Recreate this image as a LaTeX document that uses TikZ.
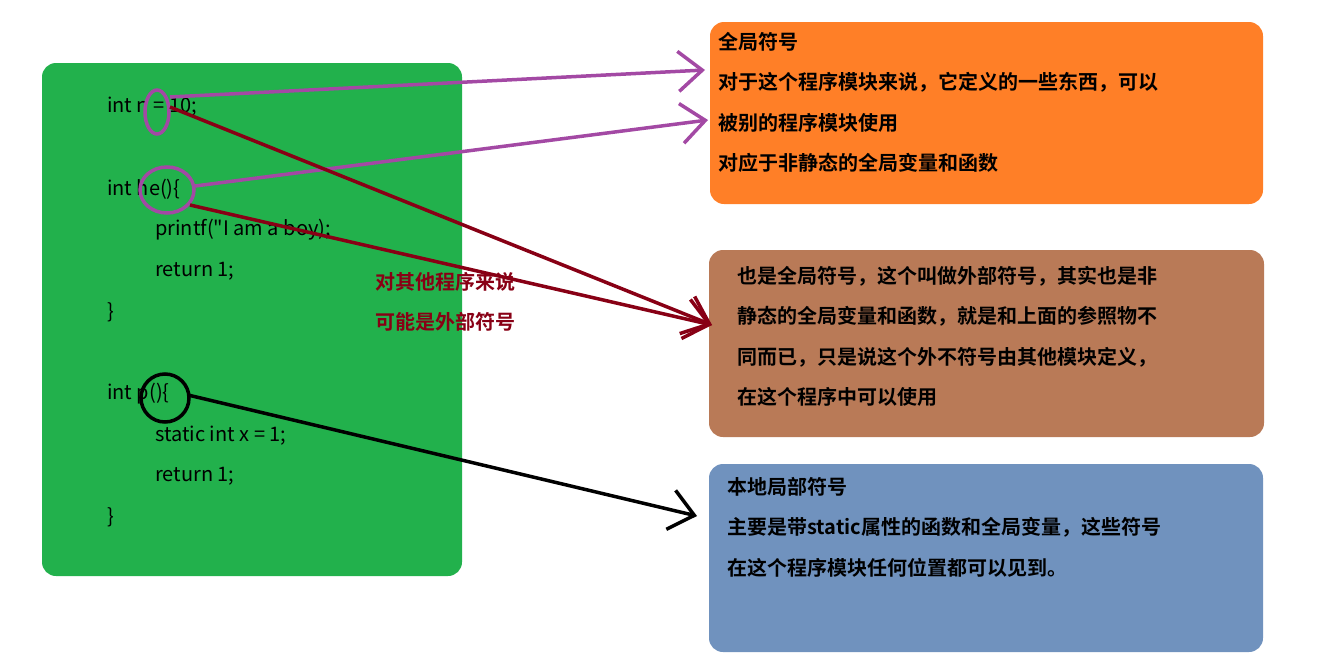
\documentclass[tikz,border=0pt]{standalone}
\usepackage{fontspec}
\newfontfamily\cjk{Noto Sans CJK SC}[BoldFont={* Bold}]
\usetikzlibrary{arrows.meta}
\definecolor{grn}{HTML}{22B14C}
\definecolor{org}{HTML}{FF7F27}
\definecolor{brn}{HTML}{B97A57}
\definecolor{blu}{HTML}{7092BE}
\definecolor{prp}{HTML}{A349A4}
\definecolor{drd}{HTML}{880015}
\tikzset{
 box/.style={rounded corners=14pt},
 code/.style={anchor=west,inner sep=0pt,font=\cjk\fontsize{20}{24}\selectfont},
 txt/.style={anchor=north west,inner sep=0pt,align=left,font=\cjk\bfseries\fontsize{20}{40.5}\selectfont},
 arr/.style={line width=3.5pt,-{Straight Barb[length=24pt,width=40pt,line width=3.5pt]}},
 ring/.style={line width=3.5pt}
}
\begin{document}
\begin{tikzpicture}[x=1pt,y=-1pt]
\useasboundingbox (0,0) rectangle (1331,659);
\fill[grn,box] (42,63) rectangle (462,576);
\fill[org,box] (710,22) rectangle (1263,204);
\fill[brn,box] (709,250) rectangle (1264,437);
\fill[blu,box] (709,464) rectangle (1263,652);
\node[code] (c1) at (107,107) {int n = 10;};
\node[code] (c2) at (107,189) {int he()\{};
\node[code] (c3) at (155,230) {printf("I am a boy);};
\node[code] (c4) at (155,271) {return 1;};
\node[code] (c5) at (107,312) {\}};
\node[code] (c6) at (107,394) {int p()\{};
\node[code] (c7) at (155,436) {static int x = 1;};
\node[code] (c8) at (155,476) {return 1;};
\node[code] (c9) at (107,517) {\}};
\draw[prp,ring] (157,112) ellipse [x radius=12, y radius=22];
\draw[prp,ring] (167,190) ellipse [x radius=27, y radius=23];
\draw[black,ring] (165,398) circle [radius=24];
\coordinate (n1) at (170,97);
\coordinate (n2) at (170,107);
\coordinate (h1) at (195,186);
\coordinate (h2) at (190,205);
\coordinate (p1) at (188,395);
\node[txt] (t1) at (718,32) {全局符号\\对于这个程序模块来说，它定义的一些东西，可以\\被别的程序模块使用\\对应于非静态的全局变量和函数};
\node[txt] (t2) at (737,266) {也是全局符号，这个叫做外部符号，其实也是非\\静态的全局变量和函数，就是和上面的参照物不\\同而已，只是说这个外不符号由其他模块定义，\\在这个程序中可以使用};
\node[txt] (t3) at (727,477) {本地局部符号\\主要是带static属性的函数和全局变量，这些符号\\在这个程序模块任何位置都可以见到。};
\node[txt,text=drd] (lab) at (375,272) {对其他程序来说\\可能是外部符号};
\coordinate (a1) at (705,70);
\coordinate (a2) at (708,120);
\coordinate (a3) at (712,325);
\coordinate (a4) at (697,516);
\draw[prp,arr] (n1) -- (a1);
\draw[prp,arr] (h1) -- (a2);
\draw[drd,arr] (n2) -- (a3);
\draw[drd,arr] (h2) -- (a3);
\draw[black,arr] (p1) -- (a4);
\end{tikzpicture}
\end{document}
